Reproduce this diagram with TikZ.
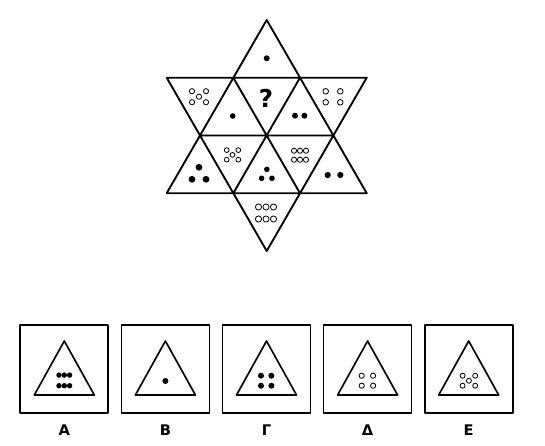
\documentclass[tikz,border=0pt]{standalone}
\usepackage{fontspec}
\setmainfont{DejaVu Sans}
\begin{document}
\begin{tikzpicture}[x=.03cm, y=-.03cm, line join=round, line cap=round,
	pip/.style={fill=black},
	ring/.style={draw=black, line width=.7pt},
	edge/.style={line width=1.6pt},
	lbl/.style={font=\bfseries\fontsize{12.5}{13}\selectfont}]
	\useasboundingbox (0,0) rectangle (545,445);
	% star
	\path
	(266.7,20) coordinate (T)
	(166.7,77.7) coordinate (L1)
	(233.3,77.7) coordinate (A1)
	(300,77.7) coordinate (A2)
	(366.7,77.7) coordinate (R1)
	(200,135.5) coordinate (C1)
	(333.3,135.5) coordinate (C3)
	(166.7,193.2) coordinate (L2)
	(233.3,193.2) coordinate (F0)
	(300,193.2) coordinate (F1)
	(366.7,193.2) coordinate (R2)
	(266.7,251) coordinate (B);
	\draw[edge] (T)--(L2)--(R2)--cycle
	(L1)--(R1)--(B)--cycle
	(C1)--(C3) (A1)--(F1) (A2)--(F0);
	% top row
	\fill[pip] (266.7,58.3) circle (3);
	\foreach \dx/\dy in {-7/-5.5,7/-5.5,0/0,-7/5.5,7/5.5}\draw[ring] (199,96.7) ++(\dx,\dy) circle (2.6);
	\fill[pip] (232.7,116) circle (2.8);
	\node[font=\bfseries\fontsize{21}{21}\selectfont] (q) at (266,98.8) {?};
	\foreach \dx in {-4.7,4.7}\fill[pip] (299.7,115.7) ++(\dx,0) circle (3);
	\foreach \dx in {-7.3,7.3}\foreach \dy in {-5.5,5.5}\draw[ring] (333,96.8) ++(\dx,\dy) circle (2.8);
	% middle row
	\foreach \dx/\dy in {0/-6.3,-7/5.7,7/5.7}\fill[pip] (199,173.6) ++(\dx,\dy) circle (3.4);
	\foreach \dx/\dy in {-5.8/-4.8,5.8/-4.8,0/0,-5.8/4.8,5.8/4.8}\draw[ring] (232.5,154.9) ++(\dx,\dy) circle (2.4);
	\foreach \dx/\dy in {0/-5.5,-5.2/3.5,5.2/3.5}\fill[pip] (266.8,174.8) ++(\dx,\dy) circle (2.8);
	\foreach \dx in {-6,0,6}\foreach \dy in {-4.5,4.5}\draw[ring] (300,155.2) ++(\dx,\dy) circle (2.6);
	\foreach \dx in {-6.3,6.3}\fill[pip] (334,175) ++(\dx,0) circle (3.1);
	% bottom point
	\foreach \dx in {-7.5,0,7.5}\foreach \dy in {-6,6}\draw[ring] (266,213) ++(\dx,\dy) circle (3.1);
	% answer boxes
	\foreach \i/\n in {0/Α,1/Β,2/Γ,3/Δ,4/Ε}{
		\pgfmathsetmacro\cx{64.3+101.1*\i}
		\draw[line width=1.4pt] (\cx-44,325) rectangle (\cx+44,412.7);
		\draw[line width=1.4pt] (\cx,341)--(\cx-30,395)--(\cx+30,395)--cycle;
		\node[lbl] (opt\i) at (\cx,430.5) {\n};
	}
	\foreach \dx in {-5.3,0,5.3}\foreach \dy in {-5.3,5.3}\fill[pip] (64.3,380.4) ++(\dx,\dy) circle (2.7);
	\fill[pip] (165.4,381) circle (3);
	\foreach \dx in {-5.2,5.2}\foreach \dy in {-5,5}\fill[pip] (266.2,380.7) ++(\dx,\dy) circle (3);
	\foreach \dx in {-5.7,5.7}\foreach \dy in {-5,5}\draw[ring] (367.4,380.7) ++(\dx,\dy) circle (2.6);
	\foreach \dx/\dy in {-6.3/-5,6.3/-5,0/0,-6.3/5,6.3/5}\draw[ring] (468.9,380.7) ++(\dx,\dy) circle (2.5);
\end{tikzpicture}
\end{document}
